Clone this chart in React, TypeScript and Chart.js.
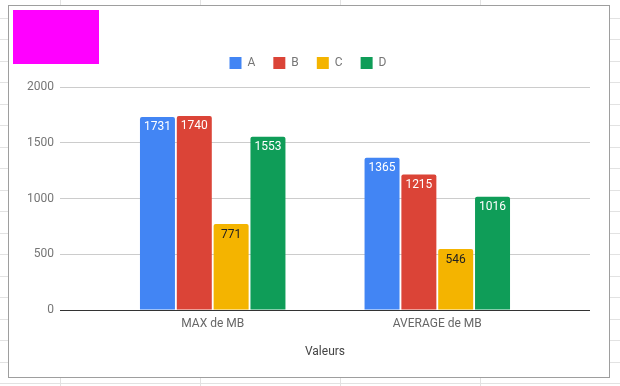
import React, { useEffect, useRef } from "react";
import { Chart, registerables } from "chart.js";

Chart.register(...registerables);

const categories = ["MAX de MB", "AVERAGE de MB"];
const seriesNames = ["A", "B", "C", "D"];
const seriesA = [1731, 1365];
const seriesB = [1740, 1215];
const seriesC = [771, 546];
const seriesD = [1553, 1016];
const yTicks = [0, 500, 1000, 1500, 2000];
const axisTitle = "Valeurs";

const seriesValues = [seriesA, seriesB, seriesC, seriesD];
const barColors = ["#4285F4", "#DB4437", "#F4B400", "#0F9D58"];
const valueLabelColors = ["#ffffff", "#ffffff", "#212121", "#ffffff"];

const FONT = "Roboto";

const valueLabels = {
  id: "valueLabels",
  afterDatasetsDraw(chart: any) {
    const ctx = chart.ctx;
    ctx.save();
    ctx.font = `12px ${FONT}`;
    ctx.textAlign = "center";
    ctx.textBaseline = "middle";
    chart.data.datasets.forEach((ds: any, di: number) => {
      const meta = chart.getDatasetMeta(di);
      meta.data.forEach((el: any, i: number) => {
        const v = ds.data[i].y;
        ctx.fillStyle = valueLabelColors[di];
        ctx.fillText(String(v), el.x, el.y + 10.5);
      });
    });
    ctx.restore();
  },
};

const legendSpacer = {
  id: "legendSpacer",
  beforeInit(chart: any) {
    const legend = chart.legend;
    if (!legend) return;
    const orig = legend.fit;
    legend.fit = function () {
      orig.call(this);
      this.height += 8;
    };
  },
};

function SheetGrid() {
  const rows: number[] = [];
  for (let i = 0; i < 18; i++) rows.push(Math.round(18 + i * 21.47));
  const cols = [60, 200, 340, 480];
  return (
    <>
      {rows.map((y) => (
        <div
          key={"r" + y}
          style={{ position: "absolute", left: 0, top: y, width: 620, height: 1, background: "#e2e2e2" }}
        />
      ))}
      {cols.map((x) => (
        <div
          key={"c" + x}
          style={{ position: "absolute", left: x, top: 0, width: 1, height: 386, background: "#e2e2e2" }}
        />
      ))}
    </>
  );
}

export default function App() {
  const canvasRef = useRef<HTMLCanvasElement | null>(null);

  useEffect(() => {
    const canvas = canvasRef.current;
    if (!canvas) return;
    const chart = new Chart(canvas, {
      type: "bar",
      data: {
        datasets: seriesNames.map((name, di) => ({
          label: name,
          data: seriesValues[di].map((v, i) => ({ x: i, y: v })),
          backgroundColor: barColors[di],
          borderWidth: 0,
          borderRadius: 2,
          categoryPercentage: 0.656,
          barPercentage: 0.95,
        })),
      },
      options: {
        responsive: false,
        animation: false,
        maintainAspectRatio: false,
        layout: { padding: { left: 26, right: 30, top: 39, bottom: 20.4 } },
        plugins: {
          tooltip: { enabled: false },
          legend: {
            display: true,
            position: "top",
            align: "center",
            labels: {
              boxWidth: 12,
              boxHeight: 12,
              padding: 18,
              color: "#757575",
              font: { family: FONT, size: 12 },
            },
          },
        },
        scales: {
          x: {
            type: "linear",
            offset: false,
            min: -0.68,
            max: 1.68,
            afterBuildTicks: (scale: any) => {
              scale.ticks = categories.map((_, i) => ({ value: i }));
            },
            grid: { display: false, drawTicks: false, offset: false },
            border: { display: false },
            ticks: {
              autoSkip: false,
              maxRotation: 0,
              padding: 7,
              color: "#666666",
              font: { family: FONT, size: 12 },
              callback: (v: any) => categories[v] ?? "",
            },
            title: {
              display: true,
              text: axisTitle,
              color: "#444444",
              font: { family: FONT, size: 12 },
              padding: { top: 6.4, bottom: 6.4 },
            },
          },
          y: {
            min: 0,
            max: 2000,
            afterBuildTicks: (scale: any) => {
              scale.ticks = yTicks.map((v) => ({ value: v }));
            },
            afterFit: (scale: any) => {
              scale.width = 34;
            },
            grid: {
              drawTicks: false,
              color: (ctx: any) => (ctx.tick && ctx.tick.value === 0 ? "#333333" : "#cccccc"),
              lineWidth: 1,
            },
            border: { display: false },
            ticks: {
              padding: 6,
              color: "#757575",
              font: { family: FONT, size: 12 },
              callback: (v: any) => String(v),
            },
          },
        },
      },
      plugins: [legendSpacer, valueLabels],
    } as any);
    return () => chart.destroy();
  }, []);

  return (
    <div
      style={{
        position: "fixed",
        left: 0,
        top: 0,
        width: 620,
        height: 386,
        background: "#ffffff",
        overflow: "hidden",
      }}
    >
      <SheetGrid />
      <div
        style={{
          position: "absolute",
          left: 8,
          top: 5,
          width: 602,
          height: 373,
          boxSizing: "border-box",
          border: "1px solid #9e9e9e",
          background: "#ffffff",
        }}
      />
      <div
        style={{ position: "absolute", left: 13, top: 10, width: 86, height: 54, background: "#ff00ff" }}
      />
      <canvas
        ref={canvasRef}
        width={620}
        height={386}
        style={{ position: "absolute", left: 0, top: 0, width: 620, height: 386, display: "block" }}
      />
    </div>
  );
}
